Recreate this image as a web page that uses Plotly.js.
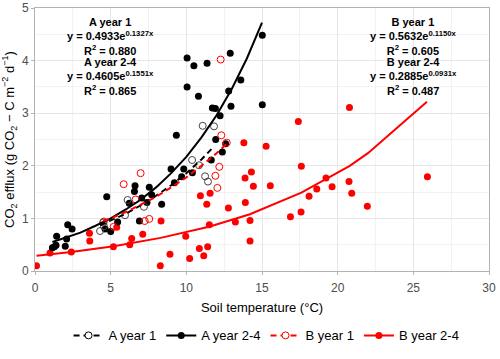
<!DOCTYPE html>
<html>
<head>
<meta charset="utf-8">
<script src="https://cdn.plot.ly/plotly-3.0.1.min.js"></script>
<style>
  html, body { margin: 0; padding: 0; background: #fff; }
  #graph { width: 500px; height: 359px; }
</style>
</head>
<body>
<div id="graph"></div>
<script>
const aYear1X = [4.3, 4.5, 4.55, 5.95, 6.12, 7.2, 10.38, 10.84, 11.08, 11.24, 11.43, 11.83]
const aYear1Y = [0.76, 0.92, 0.85, 1.06, 1.35, 1.22, 2.11, 2.01, 2.76, 1.80, 1.70, 2.75]

const aYear24X = [1.15, 1.28, 1.39, 1.43, 2.0, 2.09, 2.16, 2.45, 4.63, 4.74, 5.0, 5.46, 6.23, 6.57, 6.61,
  6.9, 7.05, 7.4, 7.55, 7.71, 8.37, 8.99, 9.21, 9.34, 9.69, 9.83, 10.05, 10.05, 10.4, 10.5, 10.8,
  11.37, 11.65, 11.72, 11.92, 11.94, 12.23, 12.38, 12.6, 12.8, 12.9, 12.95, 13.6, 15.02, 15.02]
const aYear24Y = [0.44, 0.46, 0.49, 0.66, 0.47, 0.61, 0.88, 0.80, 0.80, 1.41, 0.75, 0.93, 1.29, 1.51, 1.62,
  0.95, 1.39, 1.30, 1.59, 1.45, 1.27, 1.94, 1.68, 2.58, 1.79, 1.94, 3.50, 4.05, 1.87, 3.90, 3.32,
  3.95, 2.11, 3.10, 3.09, 2.50, 2.95, 2.26, 2.42, 3.42, 4.14, 3.13, 3.63, 4.48, 3.16]

const bYear1X = [4.55, 5.2, 5.86, 6.65, 6.98, 7.25, 7.55, 11.92, 12.05, 12.18, 12.27, 12.31, 12.67]
const bYear1Y = [0.94, 0.84, 1.65, 1.36, 1.86, 0.95, 0.99, 1.81, 1.58, 1.98, 4.02, 2.58, 2.44]

const bYear24X = [0.1, 0.99, 2.4, 3.6, 3.62, 5.18, 5.4, 6.26, 6.39, 7.12, 8.28, 8.33, 8.92, 9.96, 10.22,
  10.86, 10.93, 11.15, 11.35, 11.41, 11.52, 11.57, 12.78, 13.24, 13.8, 13.88, 13.9, 14.21, 14.21, 14.3,
  14.43, 15.27, 15.55, 16.88, 17.4, 17.58, 17.6, 18.11, 18.62, 19.23, 19.63, 20.75, 20.78, 20.93, 21.96, 25.93]
const bYear24Y = [0.10, 0.34, 0.36, 0.72, 0.57, 0.46, 0.83, 0.50, 0.62, 0.70, 0.10, 0.95, 0.32, 0.66, 0.24,
  0.43, 1.43, 0.29, 1.27, 0.46, 0.88, 1.48, 1.20, 0.93, 2.44, 1.77, 1.30, 0.57, 0.96, 1.88,
  1.61, 2.37, 1.62, 1.03, 2.84, 1.12, 1.99, 1.42, 1.56, 1.77, 1.60, 1.70, 3.11, 1.48, 1.23, 1.79]

// fitted curves
const fitA1X = [4.3, 5, 6, 7, 8, 9, 10, 11, 11.8]
const fitA1Y = [0.87, 0.96, 1.09, 1.25, 1.43, 1.63, 1.86, 2.12, 2.36]
const fitA24X = [1.15, 2, 3, 4, 5, 6, 7, 8, 9, 10, 11, 12, 13, 14, 15]
const fitA24Y = [0.55, 0.63, 0.73, 0.86, 1.00, 1.17, 1.36, 1.59, 1.86, 2.17, 2.54, 2.96, 3.46, 4.04, 4.72]
const fitB1X = [4.5, 5, 6, 7, 8, 9, 10, 11, 12, 12.7]
const fitB1Y = [0.95, 1.00, 1.12, 1.26, 1.41, 1.59, 1.78, 2.00, 2.24, 2.43]
const fitB24X = [0.1, 2.4, 5.2, 8.3, 11.5, 14.2, 17.6, 20.8, 22.0, 25.9]
const fitB24Y = [0.29, 0.36, 0.47, 0.63, 0.84, 1.08, 1.49, 2.00, 2.24, 3.22]

const legendNames = ['A year 1', 'A year 2-4', 'B year 1', 'B year 2-4']

const BLACK = '#000000'
const RED = '#FF0000'

function pts(x, y, color, open) {
    return {
        x: x, y: y, type: 'scatter', mode: 'markers', showlegend: false, hoverinfo: 'skip',
        marker: open
            ? {symbol: 'circle-open', size: 7, color: color, line: {width: 1, color: color}}
            : {symbol: 'circle', size: 7, color: color}
    }
}
function fit(x, y, color, dash) {
    return {
        x: x, y: y, type: 'scatter', mode: 'lines', showlegend: false, hoverinfo: 'skip',
        line: {color: color, width: 2, dash: dash}
    }
}
function key(name, color, dash, open) {
    return {
        x: [null], y: [null], name: name, type: 'scatter', mode: 'lines+markers',
        line: {color: color, width: 2, dash: dash},
        marker: open
            ? {symbol: 'circle', size: 7, color: '#ffffff', line: {width: 1, color: color}}
            : {symbol: 'circle', size: 7, color: color}
    }
}

const graphData = [
    pts(bYear24X, bYear24Y, RED, false),
    pts(aYear24X, aYear24Y, BLACK, false),
    pts(bYear1X, bYear1Y, RED, true),
    pts(aYear1X, aYear1Y, '#444444', true),
    fit(fitB24X, fitB24Y, RED, 'solid'),
    fit(fitA24X, fitA24Y, BLACK, 'solid'),
    fit(fitA1X, fitA1Y, BLACK, '6px,4px'),
    fit(fitB1X, fitB1Y, RED, '6px,4px'),
    key(legendNames[0], BLACK, '6px,4px', true),
    key(legendNames[1], BLACK, 'solid', false),
    key(legendNames[2], RED, '6px,4px', true),
    key(legendNames[3], RED, 'solid', false)
]

// equation labels, one block of three lines per series
const eqLeft = [
    'A year 1<br>y = 0.4933e<sup>0.1327x</sup><br>R<sup>2</sup> = 0.880',
    'A year 2-4<br>y = 0.4605e<sup>0.1551x</sup><br>R<sup>2</sup> = 0.865'
]
const eqRight = [
    'B year 1<br>y = 0.5632e<sup>0.1150x</sup><br>R<sup>2</sup> = 0.605',
    'B year 2-4<br>y = 0.2885e<sup>0.0931x</sup><br>R<sup>2</sup> = 0.487'
]
const eqTops = [4.89, 4.12]

const annotations = []
eqTops.forEach((yy, i) => {
    annotations.push({x: 5.0, y: yy, xref: 'x', yref: 'y', yanchor: 'top', align: 'center',
        text: '<b>' + eqLeft[i] + '</b>', showarrow: false, font: {size: 11, color: '#000'}})
    annotations.push({x: 25.0, y: yy, xref: 'x', yref: 'y', yanchor: 'top', align: 'center',
        text: '<b>' + eqRight[i] + '</b>', showarrow: false, font: {size: 11, color: '#000'}})
})

const axisCommon = {
    showline: true, mirror: true, linecolor: '#b3b3b3', linewidth: 1,
    ticks: 'outside', ticklen: 3, tickcolor: '#b3b3b3',
    gridcolor: '#e6e6e6', gridwidth: 1, zeroline: false,
    tickfont: {size: 12, color: '#4d4d4d'}
}

const layout = {
    width: 500, height: 359,
    margin: {l: 35, r: 11, t: 8, b: 78},
    paper_bgcolor: '#ffffff', plot_bgcolor: '#ffffff',
    font: {family: 'Liberation Sans, Arial, sans-serif', color: '#000'},
    showlegend: true,
    legend: {orientation: 'h', x: 0.51, xanchor: 'center', y: -0.245, yanchor: 'middle',
             font: {size: 13, color: '#000'}, traceorder: 'normal'},
    xaxis: Object.assign({}, axisCommon, {
        range: [0, 30], dtick: 5, tick0: 0, ticklabelstandoff: 3,
        minor: {showgrid: true, gridcolor: '#f2f2f2', gridwidth: 1, dtick: 2.5},
        title: {text: 'Soil temperature (°C)', font: {size: 13}, standoff: 8}
    }),
    yaxis: Object.assign({}, axisCommon, {
        range: [0, 5], dtick: 1, tick0: 0,
        minor: {showgrid: true, gridcolor: '#f2f2f2', gridwidth: 1, dtick: 0.5},
        title: {text: 'CO<sub>2</sub> efflux (g CO<sub>2</sub> − C m<sup>−2</sup> d<sup>−1</sup>)',
                font: {size: 13}, standoff: 4}
    }),
    annotations: annotations
}

Plotly.newPlot('graph', graphData, layout, {displayModeBar: false, staticPlot: true})
</script>
</body>
</html>
